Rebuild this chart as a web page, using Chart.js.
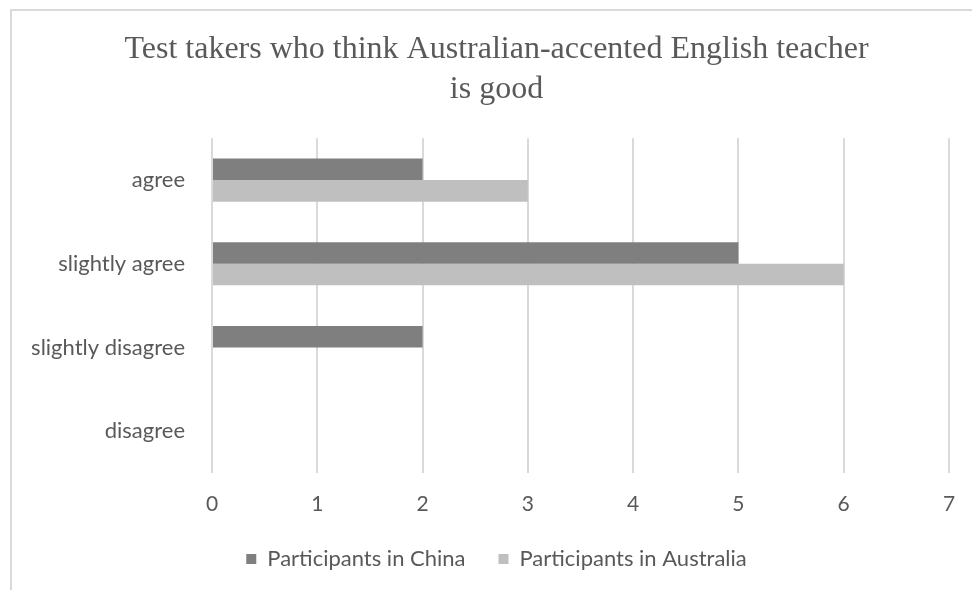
<!DOCTYPE html>
<html>
<head>
<meta charset="utf-8">
<title>Australian-accented English teacher</title>
<script src="https://cdn.jsdelivr.net/npm/chart.js@4.4.1/dist/chart.umd.min.js"></script>
<style>
  html, body { margin: 0; padding: 0; background: #fff; overflow: hidden; }
  #frame {
    position: absolute; left: 10px; top: 9px;
    width: 1000px; height: 620px;
    border-left: 2px solid #d9d9d9; border-top: 2px solid #d9d9d9;
  }
  canvas { display: block; }
</style>
</head>
<body>
<div id="frame">
  <canvas id="chart" width="969" height="569"></canvas>
</div>
<script>
// answers per category
const categories = ['agree', 'slightly agree', 'slightly disagree', 'disagree'];
const chinaValues = [2, 5, 2, 0];
const australiaValues = [3, 6, 0, 0];
const xTicks = [0, 1, 2, 3, 4, 5, 6, 7];
const titleLines = ['Test takers who think Australian-accented English teacher', 'is good'];

const sansFont = 'Lato, "Open Sans", sans-serif';
const textColor = '#595959';

// long category names run into the left padding, so widen the label clip box
const labelRoom = {
  id: 'labelRoom',
  afterLayout(chart) {
    chart.scales.y.left = 0;
  }
};

const ctx = document.getElementById('chart').getContext('2d');
new Chart(ctx, {
  type: 'bar',
  data: {
    labels: categories,
    datasets: [
      {
        label: 'Participants in China',
        data: chinaValues,
        backgroundColor: '#7f7f7f',
        categoryPercentage: 0.515,
        barPercentage: 1
      },
      {
        label: 'Participants in Australia',
        data: australiaValues,
        backgroundColor: '#bfbfbf',
        categoryPercentage: 0.515,
        barPercentage: 1
      }
    ]
  },
  plugins: [labelRoom],
  options: {
    indexAxis: 'y',
    responsive: false,
    animation: false,
    devicePixelRatio: 1,
    // equal side padding keeps title and legend centred on the frame
    layout: { padding: { left: 32, right: 32, top: 0, bottom: 0 } },
    plugins: {
      title: {
        display: true,
        text: titleLines,
        color: textColor,
        font: { family: '"Liberation Serif", "Times New Roman", serif', size: 32, weight: 'normal', lineHeight: 1.27 },
        padding: { top: 18, bottom: 28 }
      },
      legend: {
        position: 'bottom',
        labels: {
          color: textColor,
          font: { family: sansFont, size: 22 },
          boxWidth: 10,
          boxHeight: 10,
          padding: 33
        }
      },
      tooltip: { enabled: false }
    },
    scales: {
      x: {
        min: 0,
        max: 7,
        afterBuildTicks: (scale) => { scale.ticks = xTicks.map(v => ({ value: v })); },
        afterFit: (scale) => { scale.height = 42; },
        grid: { color: '#d9d9d9', lineWidth: 2, drawTicks: false },
        border: { display: false },
        ticks: {
          color: textColor,
          font: { family: sansFont, size: 21, lineHeight: 1 },
          padding: 21
        }
      },
      y: {
        afterFit: (scale) => { scale.width = 168; },
        grid: { display: false, drawTicks: false },
        border: { display: false },
        ticks: {
          color: textColor,
          font: { family: sansFont, size: 22 },
          padding: 27
        }
      }
    }
  }
});
</script>
</body>
</html>
